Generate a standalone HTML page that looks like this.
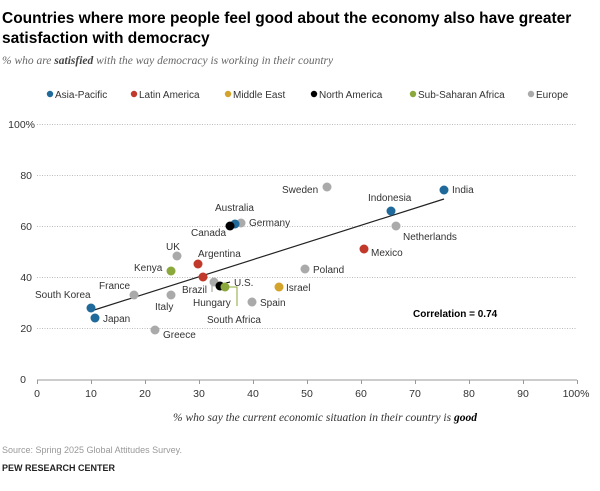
<!DOCTYPE html>
<html><head><meta charset="utf-8"><style>
body{margin:0;background:#fff;width:600px;height:486px;overflow:hidden;font-family:"Liberation Sans",sans-serif}
</style></head><body>
<svg width="600" height="486" viewBox="0 0 600 486" xmlns="http://www.w3.org/2000/svg" font-family="Liberation Sans, sans-serif">
<text x="2" y="23" font-size="15.5" font-weight="bold" fill="#000">Countries where more people feel good about the economy also have greater</text>
<text x="2" y="43" font-size="15.5" font-weight="bold" fill="#000">satisfaction with democracy</text>
<text x="2" y="64" font-size="11.5" font-style="italic" fill="#666" font-family="Liberation Serif, serif">% who are <tspan font-weight="bold" fill="#444">satisfied</tspan> with the way democracy is working in their country</text>
<g font-size="10" fill="#333">
<circle cx="50" cy="94" r="3.2" fill="#1f6a9a"/><text x="55" y="98">Asia-Pacific</text>
<circle cx="134" cy="94" r="3.2" fill="#c0392b"/><text x="139" y="98">Latin America</text>
<circle cx="228" cy="94" r="3.2" fill="#d4a32c"/><text x="233" y="98">Middle East</text>
<circle cx="314" cy="94" r="3.2" fill="#000"/><text x="319" y="98">North America</text>
<circle cx="413" cy="94" r="3.2" fill="#8aa83b"/><text x="418" y="98">Sub-Saharan Africa</text>
<circle cx="531" cy="94" r="3.2" fill="#aaa"/><text x="536" y="98">Europe</text>
</g>
<g stroke="#bbb" stroke-width="1" stroke-dasharray="1,1.5">
<line x1="37" y1="124.5" x2="577" y2="124.5"/><line x1="37" y1="175.5" x2="577" y2="175.5"/><line x1="37" y1="226.5" x2="577" y2="226.5"/><line x1="37" y1="277.5" x2="577" y2="277.5"/><line x1="37" y1="328.5" x2="577" y2="328.5"/>
</g>
<line x1="37" y1="380" x2="577" y2="380" stroke="#999"/>
<g stroke="#999"><line x1="37.5" y1="380" x2="37.5" y2="384"/><line x1="91.5" y1="380" x2="91.5" y2="384"/><line x1="145.5" y1="380" x2="145.5" y2="384"/><line x1="199.5" y1="380" x2="199.5" y2="384"/><line x1="253.5" y1="380" x2="253.5" y2="384"/><line x1="307.5" y1="380" x2="307.5" y2="384"/><line x1="361.5" y1="380" x2="361.5" y2="384"/><line x1="415.5" y1="380" x2="415.5" y2="384"/><line x1="469.5" y1="380" x2="469.5" y2="384"/><line x1="523.5" y1="380" x2="523.5" y2="384"/><line x1="577.5" y1="380" x2="577.5" y2="384"/></g>
<g font-size="10.5" fill="#333" text-anchor="end">
<text x="35" y="128">100%</text><text x="32" y="179">80</text><text x="32" y="230">60</text><text x="32" y="281">40</text><text x="32" y="332">20</text><text x="26" y="383">0</text>
</g>
<g font-size="10.5" fill="#333" text-anchor="middle">
<text x="37" y="397">0</text><text x="91" y="397">10</text><text x="145" y="397">20</text><text x="199" y="397">30</text><text x="253" y="397">40</text><text x="307" y="397">50</text><text x="361" y="397">60</text><text x="415" y="397">70</text><text x="469" y="397">80</text><text x="523" y="397">90</text><text x="576" y="397">100%</text>
</g>
<text x="325" y="421" font-size="11.5" font-style="italic" fill="#333" text-anchor="middle" font-family="Liberation Serif, serif">% who say the current economic situation in their country is <tspan font-weight="bold" fill="#000">good</tspan></text>
<text x="2" y="453" font-size="9" fill="#999">Source: Spring 2025 Global Attitudes Survey.</text>
<text x="2" y="471" font-size="9" font-weight="bold" fill="#222">PEW RESEARCH CENTER</text>
<line x1="91" y1="311" x2="444" y2="199" stroke="#222" stroke-width="1.2"/>
<line x1="212" y1="282" x2="212" y2="292" stroke="#999"/>
<path d="M222 284 L230 282" stroke="#000"/>
<path d="M225 287 L237 287 L237 306" stroke="#8aa83b" fill="none"/>
<g>
<circle cx="444" cy="190" r="4.5" fill="#1f6a9a"/>
<circle cx="391" cy="211" r="4.5" fill="#1f6a9a"/>
<circle cx="327" cy="187" r="4.5" fill="#aaa"/>
<circle cx="396" cy="226" r="4.5" fill="#aaa"/>
<circle cx="364" cy="249" r="4.5" fill="#c0392b"/>
<circle cx="305" cy="269" r="4.5" fill="#aaa"/>
<circle cx="279" cy="287" r="4.5" fill="#d4a32c"/>
<circle cx="252" cy="302" r="4.5" fill="#aaa"/>
<circle cx="241" cy="223" r="4.5" fill="#aaa"/>
<circle cx="235" cy="224" r="4.5" fill="#1f6a9a"/>
<circle cx="230" cy="226" r="4.5" fill="#000"/>
<circle cx="177" cy="256" r="4.5" fill="#aaa"/>
<circle cx="198" cy="264" r="4.5" fill="#c0392b"/>
<circle cx="171" cy="271" r="4.5" fill="#8aa83b"/>
<circle cx="203" cy="277" r="4.5" fill="#c0392b"/>
<circle cx="214" cy="282" r="4.5" fill="#aaa"/>
<circle cx="220" cy="286" r="4.5" fill="#000"/>
<circle cx="225" cy="287" r="4.5" fill="#8aa83b"/>
<circle cx="171" cy="295" r="4.5" fill="#aaa"/>
<circle cx="134" cy="295" r="4.5" fill="#aaa"/>
<circle cx="155" cy="330" r="4.5" fill="#aaa"/>
<circle cx="95" cy="318" r="4.5" fill="#1f6a9a"/>
<circle cx="91" cy="308" r="4.5" fill="#1f6a9a"/>
</g>
<g font-size="10" fill="#333">
<text x="452" y="193">India</text>
<text x="368" y="201">Indonesia</text>
<text x="282" y="193">Sweden</text>
<text x="403" y="240">Netherlands</text>
<text x="371" y="256">Mexico</text>
<text x="313" y="273">Poland</text>
<text x="286" y="291">Israel</text>
<text x="260" y="306">Spain</text>
<text x="215" y="211">Australia</text>
<text x="249" y="226">Germany</text>
<text x="191" y="236">Canada</text>
<text x="166" y="250">UK</text>
<text x="198" y="257">Argentina</text>
<text x="134" y="271">Kenya</text>
<text x="182" y="293">Brazil</text>
<text x="234" y="286">U.S.</text>
<text x="193" y="306">Hungary</text>
<text x="207" y="323">South Africa</text>
<text x="155" y="310">Italy</text>
<text x="99" y="289">France</text>
<text x="163" y="338">Greece</text>
<text x="103" y="322">Japan</text>
<text x="35" y="298">South Korea</text>
<text x="413" y="317" font-weight="bold" fill="#000">Correlation = 0.74</text>
</g>
</svg>
</body></html>
